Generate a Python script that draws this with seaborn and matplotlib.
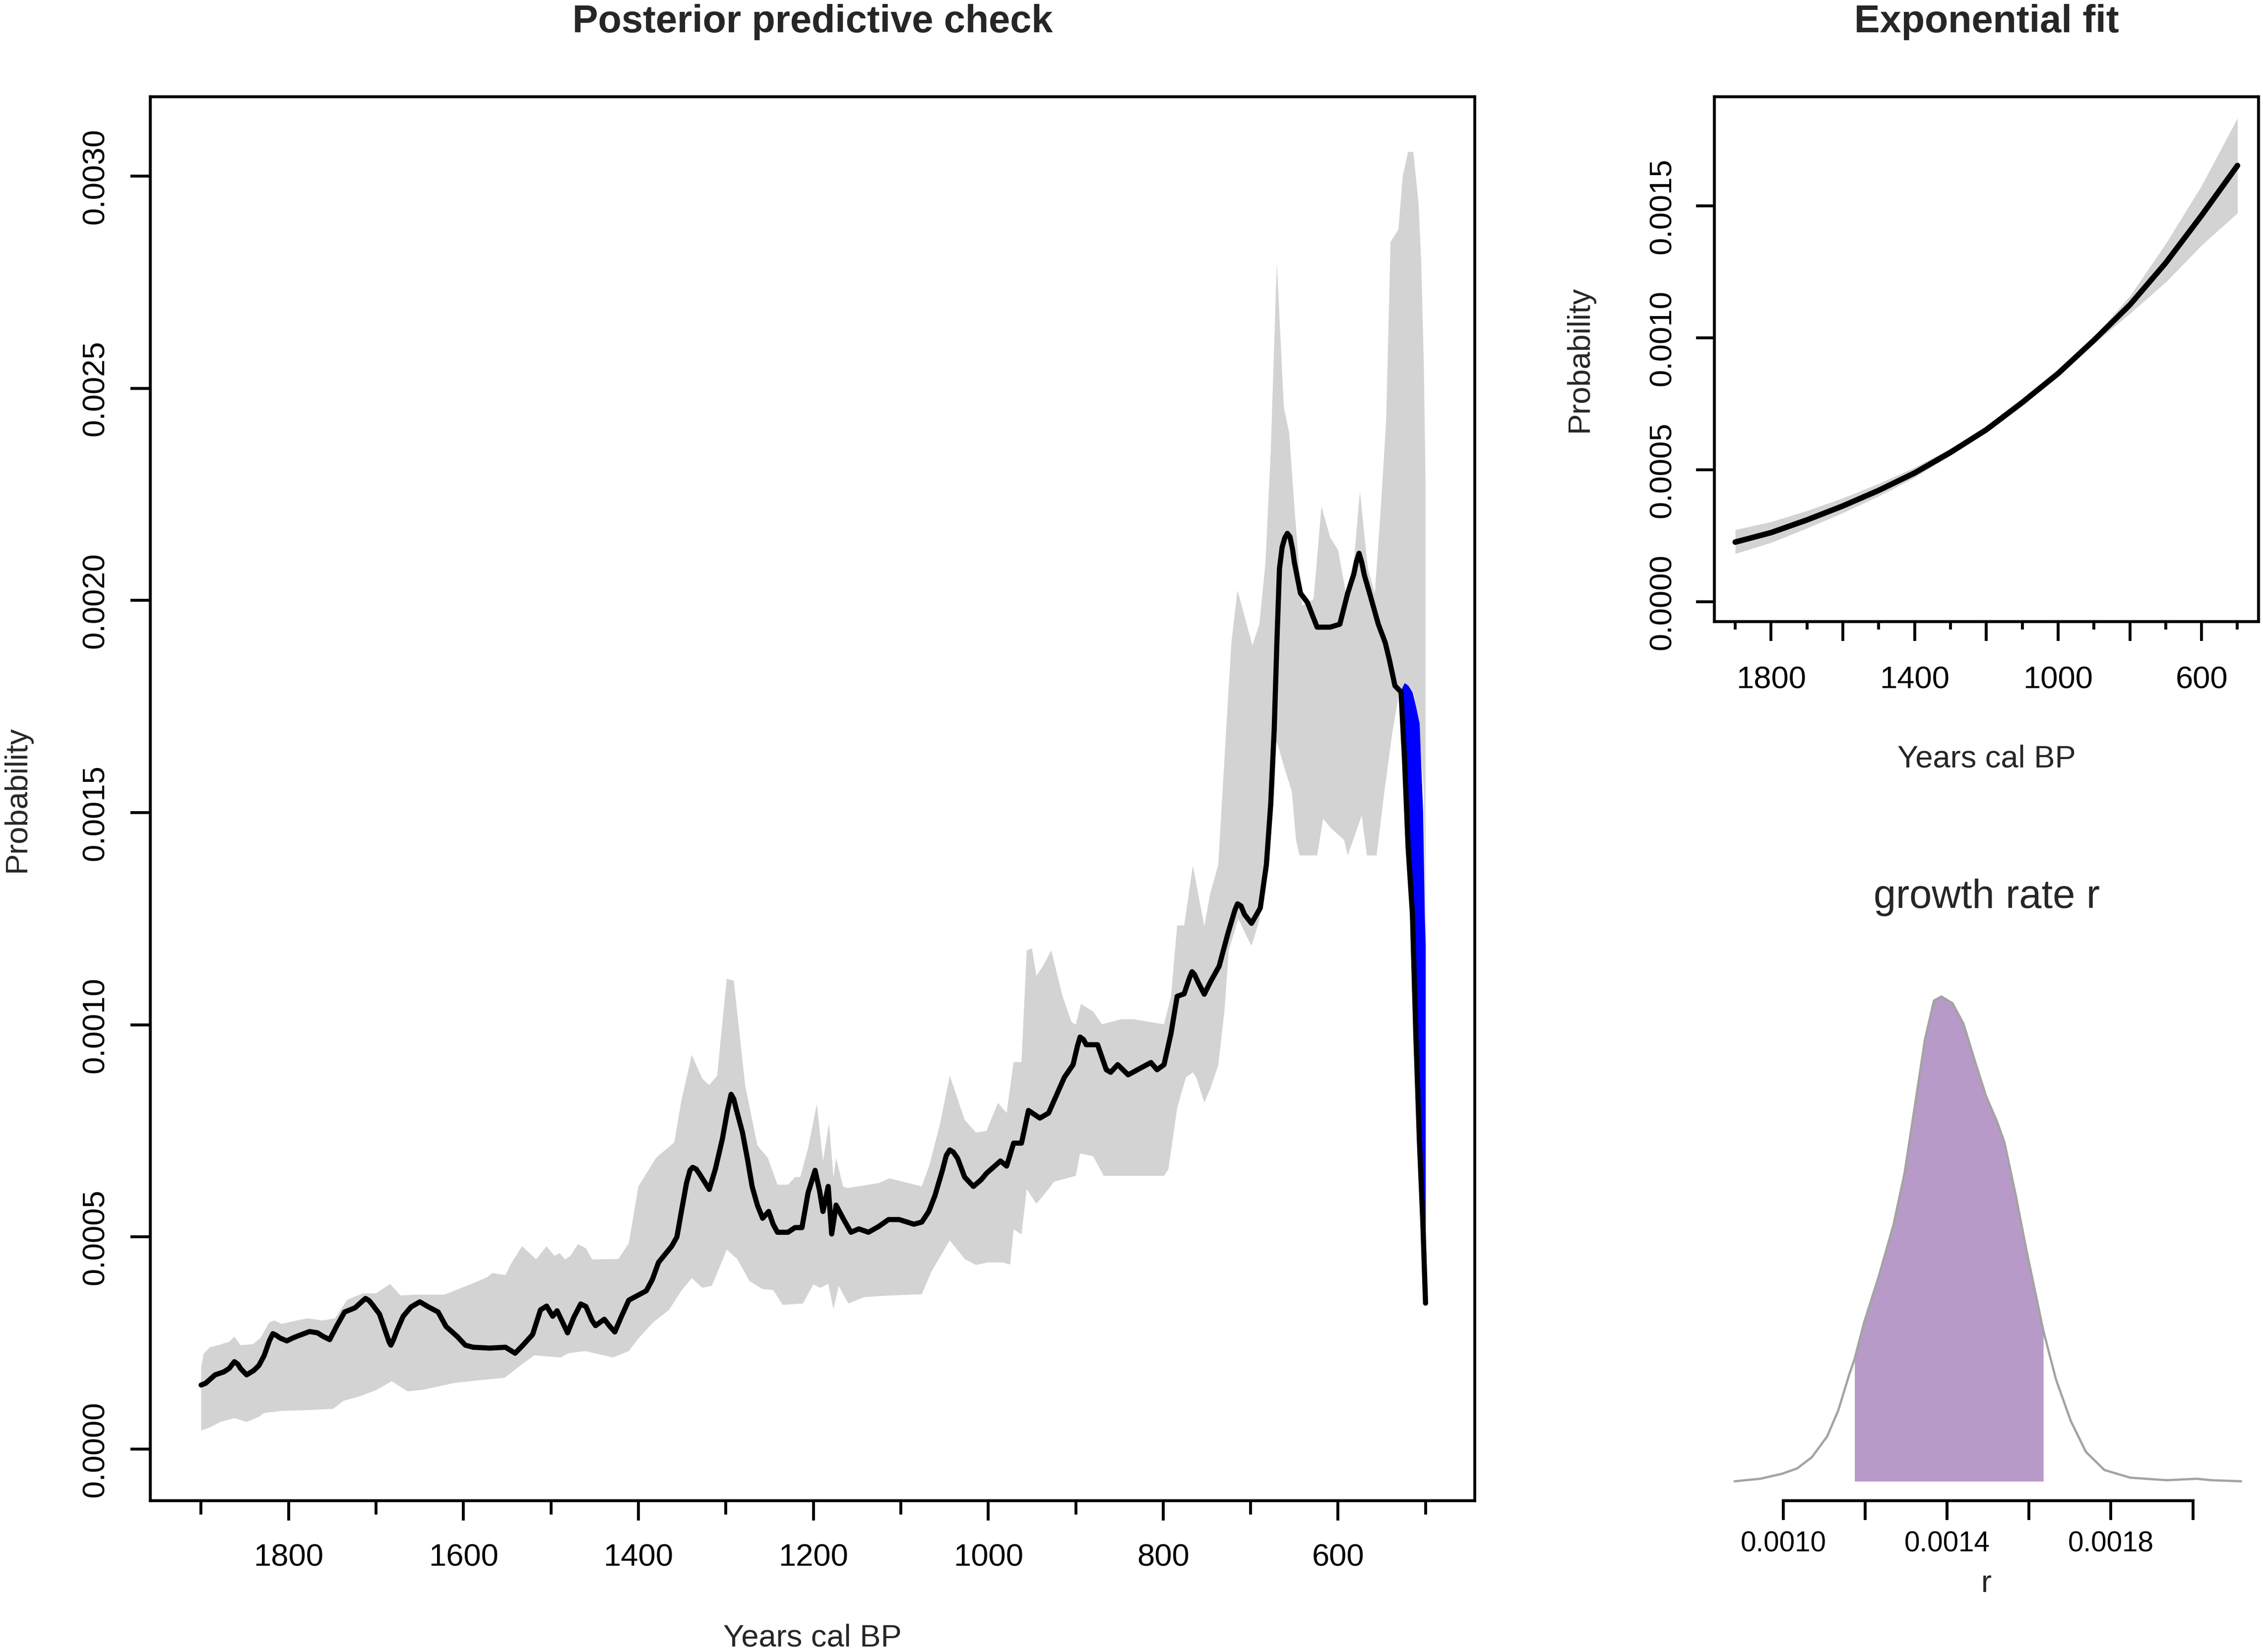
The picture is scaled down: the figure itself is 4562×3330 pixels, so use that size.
import numpy as np
import matplotlib
matplotlib.use("Agg")
import matplotlib.pyplot as plt
import seaborn as sns

# ---------------- data: posterior predictive check ----------------
spd_years = [1900, 1895, 1884, 1874, 1868, 1862, 1858, 1855, 1848, 1840, 1834, 1828, 1822,
             1818, 1814, 1810, 1802, 1795, 1789, 1776, 1767, 1760, 1753, 1745, 1736, 1724,
             1716, 1712, 1708, 1704, 1696, 1688, 1685, 1683, 1680, 1676, 1669, 1660, 1650,
             1640, 1629, 1620, 1607, 1598, 1589, 1570, 1552, 1541, 1532, 1521, 1512, 1505,
             1498, 1493, 1487, 1481, 1474, 1466, 1460, 1453, 1449, 1439, 1433, 1427, 1420,
             1411, 1391, 1384, 1377, 1362, 1356, 1350, 1345, 1341, 1338, 1334, 1330, 1319,
             1312, 1304, 1298, 1294, 1291, 1288, 1281, 1275, 1270, 1264, 1258, 1251, 1246,
             1241, 1229, 1221, 1213, 1206, 1198, 1193, 1189, 1183, 1179, 1174, 1165, 1157,
             1148, 1137, 1125, 1114, 1102, 1085, 1076, 1068, 1061, 1052, 1048, 1044, 1040,
             1035, 1027, 1017, 1008, 1002, 986, 979, 971, 962, 954, 941, 931, 913, 903, 898,
             895, 891, 888, 875, 865, 860, 852, 840, 824, 814, 807, 799, 791, 784, 776, 770,
             767, 764, 760, 753, 746, 736, 726, 718, 715, 711, 707, 699, 689, 682, 677, 673,
             670, 667, 664, 661, 658, 655, 652, 650, 643, 635, 624, 609, 598, 589, 582, 579,
             576, 573, 570, 563, 554, 546, 541, 535, 528, 524, 520, 515, 511, 507, 503, 500]
spd_values = [0.000151, 0.000155, 0.000175, 0.000182, 0.000190, 0.000206, 0.000200, 0.000190,
              0.000175, 0.000185, 0.000197, 0.000220, 0.000255, 0.000272, 0.000268, 0.000262,
              0.000255, 0.000262, 0.000267, 0.000277, 0.000274, 0.000265, 0.000258, 0.000290,
              0.000323, 0.000333, 0.000348, 0.000355, 0.000350, 0.000340, 0.000318, 0.000270,
              0.000252, 0.000245, 0.000258, 0.000280, 0.000313, 0.000335, 0.000347, 0.000335,
              0.000323, 0.000289, 0.000265, 0.000245, 0.000240, 0.000238, 0.000240, 0.000226,
              0.000245, 0.000270, 0.000328, 0.000337, 0.000313, 0.000326, 0.000300, 0.000274,
              0.000310, 0.000342, 0.000336, 0.000303, 0.000291, 0.000306, 0.000290, 0.000276,
              0.000310, 0.000351, 0.000373, 0.000400, 0.000440, 0.000478, 0.000500, 0.000570,
              0.000627, 0.000657, 0.000664, 0.000660, 0.000648, 0.000612, 0.000660, 0.000731,
              0.000800, 0.000836, 0.000825, 0.000800, 0.000746, 0.000680, 0.000619, 0.000575,
              0.000544, 0.000560, 0.000530, 0.000511, 0.000511, 0.000522, 0.000522, 0.000604,
              0.000657, 0.000610, 0.000560, 0.000619, 0.000507, 0.000575, 0.000540, 0.000511,
              0.000519, 0.000511, 0.000525, 0.000541, 0.000541, 0.000530, 0.000535, 0.000560,
              0.000597, 0.000660, 0.000692, 0.000705, 0.000700, 0.000685, 0.000641, 0.000619,
              0.000635, 0.000650, 0.000679, 0.000667, 0.000721, 0.000721, 0.000798, 0.000780,
              0.000792, 0.000876, 0.000906, 0.000950, 0.000971, 0.000965, 0.000953, 0.000953,
              0.000894, 0.000888, 0.000906, 0.000882, 0.000900, 0.000911, 0.000894, 0.000906,
              0.000980, 0.001067, 0.001073, 0.001110, 0.001125, 0.001118, 0.001100, 0.001072,
              0.001101, 0.001138, 0.001215, 0.001270, 0.001285, 0.001280, 0.001260, 0.001239,
              0.001275, 0.001377, 0.001520, 0.001697, 0.001900, 0.002075, 0.002125, 0.002147,
              0.002158, 0.002150, 0.002120, 0.002090, 0.002017, 0.001995, 0.001937, 0.001937,
              0.001944, 0.002017, 0.002062, 0.002092, 0.002111, 0.002090, 0.002060, 0.002010,
              0.001944, 0.001900, 0.001857, 0.001799, 0.001784, 0.001624, 0.001421, 0.001261,
              0.000970, 0.000726, 0.000530, 0.000344]

env_up_years = [1900, 1897, 1890, 1880, 1868, 1862, 1855, 1841, 1832, 1822, 1816, 1808, 1791,
                1778, 1761, 1747, 1733, 1715, 1700, 1684, 1672, 1653, 1622, 1607, 1589, 1573,
                1567, 1552, 1545, 1533, 1523, 1517, 1505, 1496, 1490, 1484, 1478, 1469, 1460,
                1453, 1423, 1411, 1400, 1380, 1359, 1351, 1339, 1327, 1319, 1310, 1299, 1291,
                1278, 1264, 1252, 1241, 1229, 1221, 1215, 1206, 1196, 1189, 1182, 1177, 1174,
                1166, 1161, 1125, 1113, 1076, 1067, 1055, 1044, 1027, 1014, 1002, 989, 979,
                971, 962, 956, 950, 945, 937, 928, 915, 905, 900, 894, 880, 870, 848, 834, 799,
                791, 784, 776, 766, 753, 746, 737, 730, 722, 715, 698, 690, 683, 677, 670, 662,
                656, 650, 641, 628, 619, 609, 600, 591, 582, 575, 566, 558, 551, 545, 540, 531,
                526, 520, 514, 508, 505, 502, 500]
env_up_values = [0.000192, 0.000225, 0.000240, 0.000245, 0.000253, 0.000265, 0.000245, 0.000247,
                 0.000262, 0.000299, 0.000303, 0.000295, 0.000303, 0.000308, 0.000303, 0.000308,
                 0.000352, 0.000367, 0.000367, 0.000389, 0.000362, 0.000364, 0.000364, 0.000376,
                 0.000391, 0.000405, 0.000415, 0.000410, 0.000439, 0.000478, 0.000459, 0.000447,
                 0.000478, 0.000455, 0.000462, 0.000447, 0.000455, 0.000483, 0.000473, 0.000447,
                 0.000448, 0.000485, 0.000619, 0.000686, 0.000723, 0.000820, 0.000929, 0.000873,
                 0.000858, 0.000880, 0.001108, 0.001104, 0.000858, 0.000716, 0.000686, 0.000623,
                 0.000623, 0.000641, 0.000641, 0.000709, 0.000813, 0.000679, 0.000768, 0.000640,
                 0.000686, 0.000619, 0.000615, 0.000627, 0.000638, 0.000619, 0.000671, 0.000768,
                 0.000880, 0.000776, 0.000746, 0.000750, 0.000816, 0.000792, 0.000912, 0.000912,
                 0.001175, 0.001180, 0.001115, 0.001140, 0.001175, 0.001067, 0.001007, 0.001000,
                 0.001049, 0.001031, 0.001001, 0.001013, 0.001013, 0.001001, 0.001067, 0.001234,
                 0.001234, 0.001375, 0.001232, 0.001311, 0.001377, 0.001624, 0.001900, 0.002024,
                 0.001894, 0.001944, 0.002089, 0.002351, 0.002795, 0.002454, 0.002396, 0.002221,
                 0.001988, 0.002003, 0.002221, 0.002148, 0.002119, 0.002017, 0.002089, 0.002257,
                 0.002075, 0.002017, 0.002221, 0.002424, 0.002845, 0.002874, 0.003000, 0.003057,
                 0.003057, 0.002936, 0.002800, 0.002560, 0.002280]

env_low_years = [1900, 1890, 1878, 1862, 1848, 1834, 1828, 1808, 1776, 1749, 1737, 1719, 1700,
                 1682, 1664, 1646, 1628, 1610, 1579, 1553, 1535, 1519, 1489, 1480, 1461, 1429,
                 1411, 1400, 1383, 1365, 1351, 1339, 1327, 1316, 1299, 1287, 1273, 1258, 1246,
                 1235, 1212, 1200, 1192, 1183, 1177, 1171, 1160, 1142, 1113, 1076, 1065, 1044,
                 1027, 1014, 1000, 984, 975, 971, 962, 956, 945, 931, 925, 900, 895, 880, 868,
                 799, 794, 784, 774, 766, 762, 753, 746, 737, 730, 725, 714, 705, 699, 690, 682,
                 672, 668, 662, 653, 648, 644, 624, 617, 609, 593, 589, 573, 567, 556, 547, 538,
                 530, 523, 514, 508, 502, 500]
env_low_values = [0.000044, 0.000051, 0.000064, 0.000073, 0.000064, 0.000076, 0.000085, 0.000090,
                  0.000092, 0.000095, 0.000114, 0.000124, 0.000139, 0.000160, 0.000136, 0.000140,
                  0.000148, 0.000156, 0.000163, 0.000168, 0.000197, 0.000221, 0.000216, 0.000226,
                  0.000231, 0.000216, 0.000231, 0.000261, 0.000299, 0.000328, 0.000373, 0.000403,
                  0.000380, 0.000385, 0.000470, 0.000448, 0.000396, 0.000377, 0.000375, 0.000340,
                  0.000343, 0.000388, 0.000380, 0.000390, 0.000330, 0.000385, 0.000343, 0.000358,
                  0.000362, 0.000365, 0.000418, 0.000492, 0.000448, 0.000434, 0.000440, 0.000440,
                  0.000435, 0.000518, 0.000506, 0.000613, 0.000578, 0.000613, 0.000630, 0.000644,
                  0.000697, 0.000690, 0.000644, 0.000644, 0.000660, 0.000804, 0.000876, 0.000888,
                  0.000875, 0.000817, 0.000850, 0.000905, 0.001031, 0.001175, 0.001250, 0.001210,
                  0.001186, 0.001246, 0.001360, 0.001675, 0.001653, 0.001610, 0.001551, 0.001435,
                  0.001399, 0.001399, 0.001486, 0.001465, 0.001435, 0.001399, 0.001493, 0.001399,
                  0.001399, 0.001551, 0.001688, 0.001784, 0.001806, 0.001784, 0.001726, 0.001551,
                  0.001187]

# region where the observed SPD falls below the envelope (blue)
below_years = [530, 528, 524, 520, 515, 511, 507, 503, 501, 500]
below_env = [0.001784, 0.001790, 0.001806, 0.001800, 0.001784, 0.001750, 0.001710, 0.001500,
             0.001250, 0.001187]
below_spd = [0.001784, 0.001784, 0.001624, 0.001421, 0.001261, 0.000970, 0.000726, 0.000530,
             0.000420, 0.000344]

# ---------------- data: exponential fit ----------------
fit_years = [1900, 1800, 1700, 1600, 1500, 1400, 1300, 1200, 1100, 1000, 900, 800, 700, 600, 500]
fit_median = [0.000226, 0.000262, 0.000310, 0.000363, 0.000422, 0.000488, 0.000566, 0.000652,
              0.000755, 0.000865, 0.000991, 0.001125, 0.001284, 0.001464, 0.001653]
fit_hi = [0.000273, 0.000303, 0.000345, 0.000393, 0.000448, 0.000509, 0.000581, 0.000661,
          0.000759, 0.000870, 0.001004, 0.001158, 0.001357, 0.001577, 0.001833]
fit_lo = [0.000182, 0.000224, 0.000279, 0.000337, 0.000400, 0.000471, 0.000554, 0.000645,
          0.000751, 0.000860, 0.000978, 0.001092, 0.001211, 0.001351, 0.001473]

# ---------------- data: growth rate posterior ----------------
r_grid = [0.000881, 0.000944, 0.000998, 0.001034, 0.001070, 0.001107, 0.001134, 0.001161,
          0.001174, 0.001197, 0.001233, 0.001269, 0.001296, 0.001323, 0.001346, 0.001368,
          0.001386, 0.001413, 0.001440, 0.001467, 0.001495, 0.001522, 0.001540, 0.001567,
          0.001594, 0.001635, 0.001666, 0.001702, 0.001739, 0.001784, 0.001847, 0.001937,
          0.002009, 0.002046, 0.002118]
r_density = [0, 19, 57, 96, 180, 333, 525, 793, 908, 1176, 1521, 1904, 2287, 2823, 3283, 3570,
             3600, 3550, 3397, 3129, 2861, 2670, 2516, 2133, 1712, 1118, 755, 448, 218, 84, 27,
             8, 19, 8, 0]
r_hpd_lo = 0.001174
r_hpd_hi = 0.001635

# tick labels
main_xticks = [1800, 1600, 1400, 1200, 1000, 800, 600]
main_xminor = [1900, 1700, 1500, 1300, 1100, 900, 700, 500]
main_yticks = [0.0, 0.0005, 0.0010, 0.0015, 0.0020, 0.0025, 0.0030]
main_ylabels = ["0.0000", "0.0005", "0.0010", "0.0015", "0.0020", "0.0025", "0.0030"]
exp_xlabels = ["1800", "", "1400", "", "1000", "", "600"]
exp_yticks = [0.0, 0.0005, 0.0010, 0.0015]
exp_ylabels = ["0.0000", "0.0005", "0.0010", "0.0015"]
r_ticks = [0.0010, 0.0012, 0.0014, 0.0016, 0.0018, 0.0020]
r_labels = ["0.0010", "", "0.0014", "", "0.0018", ""]

# ---------------- style ----------------
sns.set_theme(style="white")
plt.rcParams["font.family"] = ["Liberation Sans", "DejaVu Sans"]
plt.rcParams["axes.edgecolor"] = "black"
plt.rcParams["axes.linewidth"] = 1.4

W, H, DPI = 4562, 3330, 300
fig = plt.figure(figsize=(W / DPI, H / DPI), dpi=DPI)
fig.patch.set_facecolor("white")

GREY = "#d3d3d3"
TICK_FS = 15.2
LAB_FS = 15.2
TITLE_FS = 18.6

ax1 = fig.add_axes([0.06631, 0.09159, 0.58538, 0.84985])
ax2 = fig.add_axes([0.75756, 0.62384, 0.24047, 0.31760])
ax3 = fig.add_axes([0.75756, 0.09159, 0.24047, 0.31694])

# ---------------- panel 1 ----------------
poly_x = np.concatenate([env_up_years, env_low_years[::-1]])
poly_y = np.concatenate([env_up_values, env_low_values[::-1]])
ax1.fill(poly_x, poly_y, color=GREY, lw=0, zorder=1)
ax1.fill_between(below_years, below_spd, below_env, color="#0000ff", lw=0, zorder=2)
sns.lineplot(x=spd_years, y=spd_values, color="black", lw=2.5, ax=ax1, sort=False,
             estimator=None, zorder=3, solid_capstyle="round", solid_joinstyle="round")
ax1.set_xlim(1958.4, 443.7)
ax1.set_ylim(-0.0001216, 0.003187)
ax1.set_xticks(main_xticks)
ax1.set_xticklabels([str(v) for v in main_xticks])
ax1.set_xticks(main_xminor, minor=True)
ax1.set_yticks(main_yticks)
ax1.set_yticklabels(main_ylabels, rotation=90, va="center")
ax1.tick_params(axis="x", which="major", direction="out", length=9.6, width=1.4,
                pad=10.8, labelsize=TICK_FS, bottom=True, colors="black")
ax1.tick_params(axis="x", which="minor", direction="out", length=6.7, width=1.4,
                bottom=True, colors="black")
ax1.tick_params(axis="y", which="major", direction="out", length=9.6, width=1.4,
                pad=9.7, labelsize=TICK_FS, left=True, colors="black")
ax1.set_xlabel("Years cal BP", fontsize=LAB_FS)
ax1.set_ylabel("Probability", fontsize=LAB_FS)
ax1.xaxis.set_label_coords(0.5, -0.0876)
ax1.yaxis.set_label_coords(-0.0893, 0.5)
ax1.set_title("Posterior predictive check", fontsize=TITLE_FS, fontweight="bold", pad=31.2)

# ---------------- panel 2 ----------------
ax2.fill_between(fit_years, fit_lo, fit_hi, color=GREY, lw=0, zorder=1)
sns.lineplot(x=fit_years, y=fit_median, color="black", lw=2.7, ax=ax2, sort=False,
             estimator=None, zorder=3, solid_capstyle="round", solid_joinstyle="round")
ax2.set_xlim(1958.2, 441.2)
ax2.set_ylim(-0.0000746, 0.0019138)
ax2.set_xticks(main_xticks)
ax2.set_xticklabels(exp_xlabels)
ax2.set_xticks(main_xminor, minor=True)
ax2.set_yticks(exp_yticks)
ax2.set_yticklabels(exp_ylabels, rotation=90, va="center")
ax2.tick_params(axis="x", which="major", direction="out", length=9.4, width=1.4,
                pad=12.0, labelsize=TICK_FS, bottom=True, colors="black")
ax2.tick_params(axis="x", which="minor", direction="out", length=3.8, width=1.4,
                bottom=True, colors="black")
ax2.tick_params(axis="y", which="major", direction="out", length=9.0, width=1.4,
                pad=8.9, labelsize=TICK_FS, left=True, colors="black")
ax2.set_xlabel("Years cal BP", fontsize=LAB_FS)
ax2.set_ylabel("Probability", fontsize=LAB_FS)
ax2.xaxis.set_label_coords(0.5, -0.234)
ax2.yaxis.set_label_coords(-0.2206, 0.5)
ax2.set_title("Exponential fit", fontsize=TITLE_FS, fontweight="bold", pad=31.2)

# ---------------- panel 3 ----------------
r_arr = np.array(r_grid)
d_arr = np.array(r_density)
ax3.fill_between(r_arr, 0, d_arr, where=(r_arr >= r_hpd_lo) & (r_arr <= r_hpd_hi),
                 color="#b89ac8", lw=0, zorder=1)
sns.lineplot(x=r_grid, y=r_density, color="#a3a3a3", lw=1.1, ax=ax3, sort=False,
             estimator=None, zorder=2, solid_joinstyle="round")
ax3.set_xlim(0.0008316, 0.0021605)
ax3.set_ylim(-0.04 * 3600, 1.04 * 3600)
for s in ["top", "right", "left"]:
    ax3.spines[s].set_visible(False)
ax3.spines["bottom"].set_bounds(0.0010, 0.0020)
ax3.set_yticks([])
ax3.set_xticks(r_ticks)
ax3.set_xticklabels(r_labels)
ax3.tick_params(axis="x", which="major", direction="out", length=9.4, width=1.4,
                pad=5.0, labelsize=13.6, bottom=True, colors="black")
ax3.set_xlabel("r", fontsize=LAB_FS)
ax3.xaxis.set_label_coords(0.5, -0.131)
ax3.set_ylabel("")
ax3.set_title("growth rate r", fontsize=19.5, pad=33.5)

for ax in (ax1, ax2, ax3):
    ax.grid(False)
    ax.set_facecolor("white")

fig.savefig("out.png", dpi=DPI, facecolor="white")
